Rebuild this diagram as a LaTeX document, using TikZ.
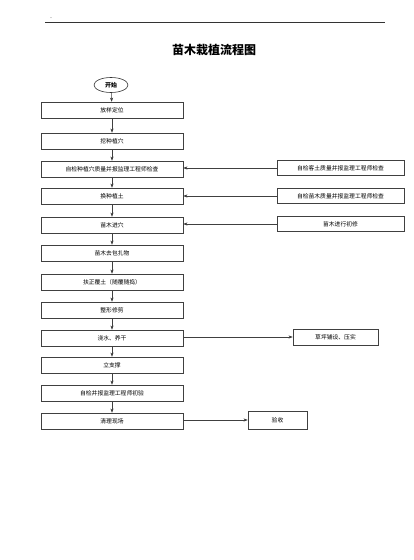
\documentclass[tikz,border=0pt]{standalone}
\usepackage{fontspec}
\setmainfont{Liberation Serif}
\newfontfamily\cjk{Noto Sans CJK SC}
\usetikzlibrary{arrows.meta,shapes.geometric}
\begin{document}
\begin{tikzpicture}[x=1pt,y=-1pt,
  lbox/.style={draw=black!75,line width=0.5pt,minimum width=142pt,minimum height=16pt,inner sep=0pt,font=\cjk\fontsize{5.8}{6}\selectfont},
  rbox/.style={draw=black!75,line width=0.5pt,minimum width=127pt,minimum height=15pt,inner sep=0pt,font=\cjk\fontsize{5.8}{6}\selectfont},
  arr/.style={draw=black!75,line width=0.5pt,-{Stealth[length=4pt,width=3pt,inset=1pt]}}]
\useasboundingbox (0,0) rectangle (413,560);
\fill[white] (0,0) rectangle (413,560);
% header line
\coordinate (hl) at (45,22);
\coordinate (hr) at (385,22);
\draw[black!80,line width=0.6pt] (hl) -- (hr);
\node[font=\fontsize{6}{6}\selectfont,inner sep=0pt] (dot) at (51,18) {.};
\node[font=\cjk\bfseries\fontsize{12}{14}\selectfont] (title) at (214,50) {苗木栽植流程图};
% start
\node[draw=black!80,line width=0.6pt,ellipse,minimum width=34pt,minimum height=15pt,inner sep=0pt,font=\cjk\bfseries\fontsize{6}{7}\selectfont] (s) at (111,85) {开始};
\node[lbox] (b1) at (112,110) {放样定位};
\node[lbox] (b2) at (112,141) {挖种植穴};
\node[lbox] (b3) at (112,169) {自检种植穴质量并报监理工程师检查};
\node[lbox] (b4) at (112,196) {换种植土};
\node[lbox] (b5) at (112,225) {苗木进穴};
\node[lbox] (b6) at (112,253) {苗木去包扎物};
\node[lbox] (b7) at (112,282) {扶正覆土（随覆随捣）};
\node[lbox] (b8) at (112,310) {整形修剪};
\node[lbox] (b9) at (112,338) {浇水、养干};
\node[lbox] (b10) at (112,365) {立支撑};
\node[lbox] (b11) at (112,393) {自检并报监理工程师初验};
\node[lbox] (b12) at (112,421) {清理现场};
\node[rbox] (r1) at (340.5,168) {自检客土质量并报监理工程师检查};
\node[rbox] (r2) at (340.5,196) {自检苗木质量并报监理工程师检查};
\node[rbox] (r3) at (340.5,224) {苗木进行初修};
\node[draw=black!75,line width=0.5pt,minimum width=85pt,minimum height=16pt,inner sep=0pt,font=\cjk\fontsize{5.8}{6}\selectfont] (g) at (335.5,337) {草坪铺设、压实};
\node[draw=black!75,line width=0.5pt,minimum width=59pt,minimum height=18pt,inner sep=0pt,font=\cjk\fontsize{5.8}{6}\selectfont] (v) at (277.5,420) {验收};
\draw[arr] (s) -- (b1);
\foreach \a/\b in {b1/b2,b2/b3,b3/b4,b4/b5,b5/b6,b6/b7,b7/b8,b8/b9,b9/b10,b10/b11,b11/b12}
  \draw[arr] (\a) -- (\b);
\draw[arr] (r1.west) -- (r1.west -| b3.east);
\draw[arr] (r2.west) -- (r2.west -| b4.east);
\draw[arr] (r3.west) -- (r3.west -| b5.east);
\draw[arr] (b9.east |- g.west) -- (g.west);
\draw[arr] (b12.east |- v.west) -- (v.west);
\end{tikzpicture}
\end{document}
